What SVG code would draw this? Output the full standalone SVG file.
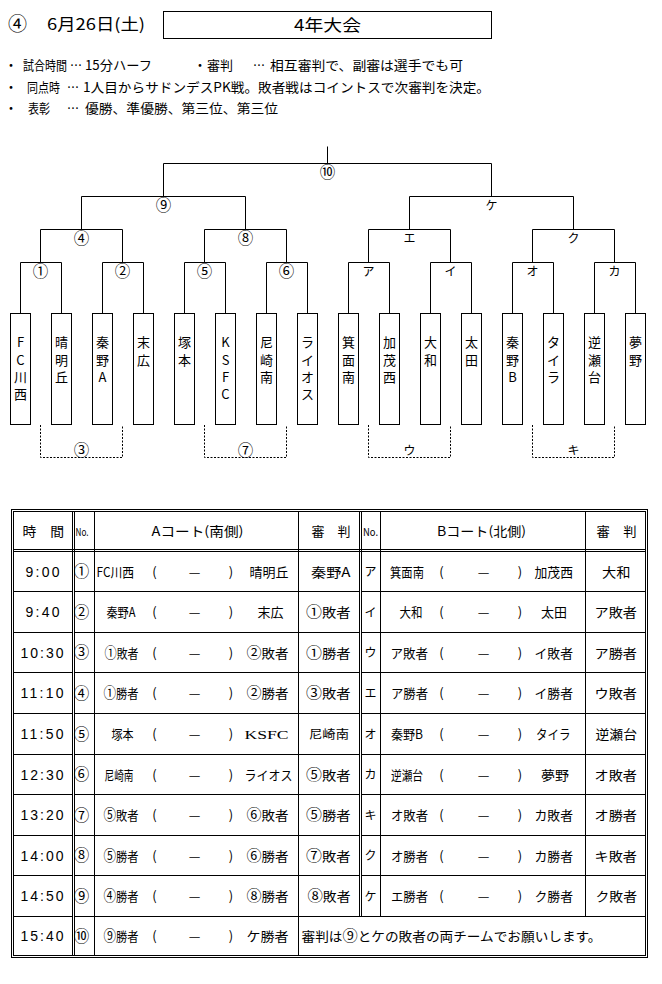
<svg xmlns="http://www.w3.org/2000/svg" width="662" height="984" viewBox="0 0 662 984">
<style>
text{font-family:"Noto Sans CJK JP","Noto Sans",sans-serif;fill:#000;font-size:13px}
.ln{fill:none;stroke:#000;stroke-width:1}
.dash{fill:none;stroke:#000;stroke-width:1;stroke-dasharray:2 1.5}
.box{fill:#fff;stroke:#000;stroke-width:1}
.lbl{font-size:12px;text-anchor:middle}
.cl{font-size:15.5px;text-anchor:middle}
.tm{font-family:"Liberation Sans",Arial,sans-serif;font-size:14px}
.c{text-anchor:middle}
.no{font-size:12px;text-anchor:middle}
.cn{font-size:15.5px;text-anchor:middle}
.cd{font-size:14.5px}
.v{font-size:13px;text-anchor:middle}
</style>
<rect width="662" height="984" fill="#fff"/>

<g id="header">
<text x="17.5" y="31" class="c" style="font-size:19px">④</text>
<text x="47" y="30" style="font-size:16px" textLength="98" lengthAdjust="spacingAndGlyphs">6月26日(土)</text>
<rect x="163.5" y="11.5" width="328" height="27" class="ln"/>
<text x="327.5" y="30.5" class="c" style="font-size:16px" textLength="67" lengthAdjust="spacingAndGlyphs">4年大会</text>
<text x="11" y="70" class="c">・</text>
<text x="23" y="70" textLength="44" lengthAdjust="spacingAndGlyphs">試合時間</text>
<text x="70" y="70" textLength="12" lengthAdjust="spacingAndGlyphs">…</text>
<text x="85" y="70" textLength="67" lengthAdjust="spacingAndGlyphs">15分ハーフ</text>
<text x="200" y="70" class="c">・</text>
<text x="207" y="70" textLength="26" lengthAdjust="spacingAndGlyphs">審判</text>
<text x="253" y="70" textLength="12" lengthAdjust="spacingAndGlyphs">…</text>
<text x="270" y="70" textLength="193" lengthAdjust="spacingAndGlyphs">相互審判で、副審は選手でも可</text>
<text x="11" y="92" class="c">・</text>
<text x="27" y="92" textLength="33" lengthAdjust="spacingAndGlyphs">同点時</text>
<text x="67" y="92" textLength="12" lengthAdjust="spacingAndGlyphs">…</text>
<text x="83" y="92" textLength="407" lengthAdjust="spacingAndGlyphs">1人目からサドンデスPK戦。敗者戦はコイントスで次審判を決定。</text>
<text x="11" y="113" class="c">・</text>
<text x="28" y="113" textLength="22" lengthAdjust="spacingAndGlyphs">表彰</text>
<text x="67" y="113" textLength="12" lengthAdjust="spacingAndGlyphs">…</text>
<text x="85" y="113" textLength="193" lengthAdjust="spacingAndGlyphs">優勝、準優勝、第三位、第三位</text>
</g>

<g id="connectors">
<path class="ln" d="M327.5,146.5V163.5M163.5,196.5V163.5H491.5V196.5
M81.5,229.5V196.5H245.5V229.5M409.5,229.5V196.5H573.5V229.5
M40.5,262.5V229.5H122.5V262.5M204.5,262.5V229.5H286.5V262.5M368.5,262.5V229.5H450.5V262.5M532.5,262.5V229.5H614.5V262.5
M20.5,313.5V262.5H61.5V313.5M102.5,313.5V262.5H143.5V313.5M184.5,313.5V262.5H225.5V313.5M266.5,313.5V262.5H307.5V313.5
M348.5,313.5V262.5H389.5V313.5M430.5,313.5V262.5H471.5V313.5M512.5,313.5V262.5H553.5V313.5M594.5,313.5V262.5H635.5V313.5"/>
<path class="dash" d="M40.5,425V457.5H122.5V425M204.5,425V457.5H286.5V425M368.5,425V457.5H450.5V425M532.5,425V457.5H614.5V425"/>
</g>

<g id="matches">
<g id="m10"><text class="cl" x="327.5" y="177.5">⑩</text></g>
<g id="m9"><text class="cl" x="163.5" y="210.5">⑨</text></g>
<g id="mke"><text class="lbl" x="491.5" y="209.5">ケ</text></g>
<g id="m4"><text class="cl" x="81.5" y="243.5">④</text></g>
<g id="m8"><text class="cl" x="245.5" y="243.5">⑧</text></g>
<g id="me"><text class="lbl" x="409.5" y="242.5">エ</text></g>
<g id="mku"><text class="lbl" x="573.5" y="242.5">ク</text></g>
<g id="m1"><text class="cl" x="40.5" y="276.5">①</text></g>
<g id="m2"><text class="cl" x="122.5" y="276.5">②</text></g>
<g id="m5"><text class="cl" x="204.5" y="276.5">⑤</text></g>
<g id="m6"><text class="cl" x="286.5" y="276.5">⑥</text></g>
<g id="ma"><text class="lbl" x="368.5" y="275.5">ア</text></g>
<g id="mi"><text class="lbl" x="450.5" y="275.5">イ</text></g>
<g id="mo"><text class="lbl" x="532.5" y="275.5">オ</text></g>
<g id="mka"><text class="lbl" x="614.5" y="275.5">カ</text></g>
<g id="m3"><text class="cl" x="81.5" y="455.5">③</text></g>
<g id="m7"><text class="cl" x="245.5" y="455.5">⑦</text></g>
<g id="mu"><text class="lbl" x="409.5" y="455">ウ</text></g>
<g id="mki"><text class="lbl" x="573.5" y="455">キ</text></g>
</g>

<g id="teams">
<g id="t1"><rect class="box" x="10.5" y="313.5" width="20" height="111"/><text class="v"><tspan x="20.5" y="347">F</tspan><tspan x="20.5" y="364.5">C</tspan><tspan x="20.5" y="382">川</tspan><tspan x="20.5" y="399">西</tspan></text></g>
<g id="t2"><rect class="box" x="51.5" y="313.5" width="20" height="111"/><text class="v"><tspan x="61.5" y="347">晴</tspan><tspan x="61.5" y="364.5">明</tspan><tspan x="61.5" y="382">丘</tspan></text></g>
<g id="t3"><rect class="box" x="92.5" y="313.5" width="20" height="111"/><text class="v"><tspan x="102.5" y="347">秦</tspan><tspan x="102.5" y="364.5">野</tspan><tspan x="102.5" y="382">A</tspan></text></g>
<g id="t4"><rect class="box" x="133.5" y="313.5" width="20" height="111"/><text class="v"><tspan x="143.5" y="347">末</tspan><tspan x="143.5" y="364.5">広</tspan></text></g>
<g id="t5"><rect class="box" x="174.5" y="313.5" width="20" height="111"/><text class="v"><tspan x="184.5" y="347">塚</tspan><tspan x="184.5" y="364.5">本</tspan></text></g>
<g id="t6"><rect class="box" x="215.5" y="313.5" width="20" height="111"/><text class="v"><tspan x="225.5" y="347">K</tspan><tspan x="225.5" y="364.5">S</tspan><tspan x="225.5" y="382">F</tspan><tspan x="225.5" y="399">C</tspan></text></g>
<g id="t7"><rect class="box" x="256.5" y="313.5" width="20" height="111"/><text class="v"><tspan x="266.5" y="347">尼</tspan><tspan x="266.5" y="364.5">崎</tspan><tspan x="266.5" y="382">南</tspan></text></g>
<g id="t8"><rect class="box" x="297.5" y="313.5" width="20" height="111"/><text class="v"><tspan x="307.5" y="347">ラ</tspan><tspan x="307.5" y="364.5">イ</tspan><tspan x="307.5" y="382">オ</tspan><tspan x="307.5" y="399">ス</tspan></text></g>
<g id="t9"><rect class="box" x="338.5" y="313.5" width="20" height="111"/><text class="v"><tspan x="348.5" y="347">箕</tspan><tspan x="348.5" y="364.5">面</tspan><tspan x="348.5" y="382">南</tspan></text></g>
<g id="t10"><rect class="box" x="379.5" y="313.5" width="20" height="111"/><text class="v"><tspan x="389.5" y="347">加</tspan><tspan x="389.5" y="364.5">茂</tspan><tspan x="389.5" y="382">西</tspan></text></g>
<g id="t11"><rect class="box" x="420.5" y="313.5" width="20" height="111"/><text class="v"><tspan x="430.5" y="347">大</tspan><tspan x="430.5" y="364.5">和</tspan></text></g>
<g id="t12"><rect class="box" x="461.5" y="313.5" width="20" height="111"/><text class="v"><tspan x="471.5" y="347">太</tspan><tspan x="471.5" y="364.5">田</tspan></text></g>
<g id="t13"><rect class="box" x="502.5" y="313.5" width="20" height="111"/><text class="v"><tspan x="512.5" y="347">秦</tspan><tspan x="512.5" y="364.5">野</tspan><tspan x="512.5" y="382">B</tspan></text></g>
<g id="t14"><rect class="box" x="543.5" y="313.5" width="20" height="111"/><text class="v"><tspan x="553.5" y="347">タ</tspan><tspan x="553.5" y="364.5">イ</tspan><tspan x="553.5" y="382">ラ</tspan></text></g>
<g id="t15"><rect class="box" x="584.5" y="313.5" width="20" height="111"/><text class="v"><tspan x="594.5" y="347">逆</tspan><tspan x="594.5" y="364.5">瀬</tspan><tspan x="594.5" y="382">台</tspan></text></g>
<g id="t16"><rect class="box" x="625.5" y="313.5" width="20" height="111"/><text class="v"><tspan x="635.5" y="347">夢</tspan><tspan x="635.5" y="364.5">野</tspan></text></g>
</g>

<g id="table">
<rect class="ln" x="11.5" y="509.5" width="636" height="448"/>
<rect class="ln" x="13.5" y="511.5" width="632" height="444"/>
<path class="ln" d="M13.5,549.5H645.5M13.5,551.5H645.5
M72.5,511.5V955.5M74.5,511.5V955.5M94.5,511.5V955.5M298.5,511.5V955.5
M359.5,511.5V916.5M361.5,511.5V916.5M380.5,511.5V916.5M585.5,511.5V916.5
M13.5,591.5H72.5M74.5,591.5H359.5M361.5,591.5H645.5
M13.5,632.5H72.5M74.5,632.5H359.5M361.5,632.5H645.5
M13.5,672.5H72.5M74.5,672.5H359.5M361.5,672.5H645.5
M13.5,713.5H72.5M74.5,713.5H359.5M361.5,713.5H645.5
M13.5,754.5H72.5M74.5,754.5H359.5M361.5,754.5H645.5
M13.5,794.5H72.5M74.5,794.5H359.5M361.5,794.5H645.5
M13.5,835.5H72.5M74.5,835.5H359.5M361.5,835.5H645.5
M13.5,875.5H72.5M74.5,875.5H359.5M361.5,875.5H645.5
M13.5,916.5H72.5M74.5,916.5H645.5"/>

<g id="thead">
<text x="22.5" y="535.5" textLength="41.5" lengthAdjust="spacingAndGlyphs">時　間</text>
<text x="75.5" y="535.5" style="font-size:11px" textLength="13" lengthAdjust="spacingAndGlyphs">No.</text>
<text x="151.5" y="535.5" textLength="92" lengthAdjust="spacingAndGlyphs">Aコート(南側)</text>
<text x="311.5" y="535.5" textLength="39" lengthAdjust="spacingAndGlyphs">審　判</text>
<text x="363" y="535.5" style="font-size:11px" textLength="15" lengthAdjust="spacingAndGlyphs">No.</text>
<text x="437" y="535.5" textLength="89" lengthAdjust="spacingAndGlyphs">Bコート(北側)</text>
<text x="596.5" y="535.5" textLength="40" lengthAdjust="spacingAndGlyphs">審　判</text>
</g>

<g id="times">
<text class="tm" x="25.5" y="576.5" textLength="34">9:00</text>
<text class="tm" x="25.5" y="617" textLength="34">9:40</text>
<text class="tm" x="20.5" y="657.5" textLength="43">10:30</text>
<text class="tm" x="20.5" y="698" textLength="43">11:10</text>
<text class="tm" x="20.5" y="739" textLength="43">11:50</text>
<text class="tm" x="20.5" y="779.5" textLength="43">12:30</text>
<text class="tm" x="20.5" y="820" textLength="43">13:20</text>
<text class="tm" x="20.5" y="860.5" textLength="43">14:00</text>
<text class="tm" x="20.5" y="901" textLength="43">14:50</text>
<text class="tm" x="20.5" y="941" textLength="43">15:40</text>
</g>

<g id="nos">
<text class="cn" x="81.5" y="577">①</text><text class="cn" x="81.5" y="617.5">②</text><text class="cn" x="81.5" y="658">③</text><text class="cn" x="81.5" y="698.5">④</text><text class="cn" x="81.5" y="739.5">⑤</text><text class="cn" x="81.5" y="780">⑥</text><text class="cn" x="81.5" y="820.5">⑦</text><text class="cn" x="81.5" y="861">⑧</text><text class="cn" x="81.5" y="901.5">⑨</text><text class="cn" x="81.5" y="941.5">⑩</text>
<text class="no" x="370.5" y="576">ア</text><text class="no" x="370.5" y="616.5">イ</text><text class="no" x="370.5" y="657">ウ</text><text class="no" x="370.5" y="697.5">エ</text><text class="no" x="370.5" y="738.5">オ</text><text class="no" x="370.5" y="779">カ</text><text class="no" x="370.5" y="819.5">キ</text><text class="no" x="370.5" y="860">ク</text><text class="no" x="370.5" y="900.5">ケ</text>
</g>

<g id="punct">
<text class="c" x="154.5" y="576.5">(</text><text class="c" x="194.5" y="576.5">—</text><text class="c" x="231" y="576.5">)</text>
<text class="c" x="154.5" y="617">(</text><text class="c" x="194.5" y="617">—</text><text class="c" x="231" y="617">)</text>
<text class="c" x="154.5" y="657.5">(</text><text class="c" x="194.5" y="657.5">—</text><text class="c" x="231" y="657.5">)</text>
<text class="c" x="154.5" y="698">(</text><text class="c" x="194.5" y="698">—</text><text class="c" x="231" y="698">)</text>
<text class="c" x="154.5" y="739">(</text><text class="c" x="194.5" y="739">—</text><text class="c" x="231" y="739">)</text>
<text class="c" x="154.5" y="779.5">(</text><text class="c" x="194.5" y="779.5">—</text><text class="c" x="231" y="779.5">)</text>
<text class="c" x="154.5" y="820">(</text><text class="c" x="194.5" y="820">—</text><text class="c" x="231" y="820">)</text>
<text class="c" x="154.5" y="860.5">(</text><text class="c" x="194.5" y="860.5">—</text><text class="c" x="231" y="860.5">)</text>
<text class="c" x="154.5" y="901">(</text><text class="c" x="194.5" y="901">—</text><text class="c" x="231" y="901">)</text>
<text class="c" x="154.5" y="941">(</text><text class="c" x="194.5" y="941">—</text><text class="c" x="231" y="941">)</text>
<text class="c" x="441.5" y="576.5">(</text><text class="c" x="483.5" y="576.5">—</text><text class="c" x="520" y="576.5">)</text>
<text class="c" x="441.5" y="617">(</text><text class="c" x="483.5" y="617">—</text><text class="c" x="520" y="617">)</text>
<text class="c" x="441.5" y="657.5">(</text><text class="c" x="483.5" y="657.5">—</text><text class="c" x="520" y="657.5">)</text>
<text class="c" x="441.5" y="698">(</text><text class="c" x="483.5" y="698">—</text><text class="c" x="520" y="698">)</text>
<text class="c" x="441.5" y="739">(</text><text class="c" x="483.5" y="739">—</text><text class="c" x="520" y="739">)</text>
<text class="c" x="441.5" y="779.5">(</text><text class="c" x="483.5" y="779.5">—</text><text class="c" x="520" y="779.5">)</text>
<text class="c" x="441.5" y="820">(</text><text class="c" x="483.5" y="820">—</text><text class="c" x="520" y="820">)</text>
<text class="c" x="441.5" y="860.5">(</text><text class="c" x="483.5" y="860.5">—</text><text class="c" x="520" y="860.5">)</text>
<text class="c" x="441.5" y="901">(</text><text class="c" x="483.5" y="901">—</text><text class="c" x="520" y="901">)</text>
</g>

<g id="courtA">
<text x="96.5" y="576.5" textLength="37.5" lengthAdjust="spacingAndGlyphs">FC川西</text>
<text x="249.5" y="576.5" textLength="39" lengthAdjust="spacingAndGlyphs">晴明丘</text>
<text x="311" y="576.5" textLength="39.5" lengthAdjust="spacingAndGlyphs">秦野A</text>
<text x="106.5" y="617" textLength="29" lengthAdjust="spacingAndGlyphs">秦野A</text>
<text x="257.5" y="617" textLength="26" lengthAdjust="spacingAndGlyphs">末広</text>
<text x="306" y="617" textLength="44.5" lengthAdjust="spacingAndGlyphs"><tspan class="cd">①</tspan>敗者</text>
<text x="104.5" y="657.5" textLength="34" lengthAdjust="spacingAndGlyphs"><tspan class="cd">①</tspan>敗者</text>
<text x="246.5" y="657.5" textLength="42" lengthAdjust="spacingAndGlyphs"><tspan class="cd">②</tspan>敗者</text>
<text x="306" y="657.5" textLength="44.5" lengthAdjust="spacingAndGlyphs"><tspan class="cd">①</tspan>勝者</text>
<text x="103.5" y="698" textLength="35" lengthAdjust="spacingAndGlyphs"><tspan class="cd">①</tspan>勝者</text>
<text x="246.5" y="698" textLength="42" lengthAdjust="spacingAndGlyphs"><tspan class="cd">②</tspan>勝者</text>
<text x="306" y="698" textLength="44.5" lengthAdjust="spacingAndGlyphs"><tspan class="cd">③</tspan>敗者</text>
<text x="111.5" y="739" textLength="22" lengthAdjust="spacingAndGlyphs">塚本</text>
<text x="244.5" y="739" textLength="44" lengthAdjust="spacingAndGlyphs" style="font-family:'Liberation Serif',serif;font-size:13px">KSFC</text>
<text x="309" y="739" style="font-size:12px" textLength="40" lengthAdjust="spacingAndGlyphs">尼崎南</text>
<text x="104.5" y="779.5" textLength="29" lengthAdjust="spacingAndGlyphs">尼崎南</text>
<text x="244.5" y="779.5" textLength="48" lengthAdjust="spacingAndGlyphs">ライオス</text>
<text x="306" y="779.5" textLength="44.5" lengthAdjust="spacingAndGlyphs"><tspan class="cd">⑤</tspan>敗者</text>
<text x="103.5" y="820" textLength="35" lengthAdjust="spacingAndGlyphs"><tspan class="cd">⑤</tspan>敗者</text>
<text x="246.5" y="820" textLength="42" lengthAdjust="spacingAndGlyphs"><tspan class="cd">⑥</tspan>敗者</text>
<text x="306" y="820" textLength="44.5" lengthAdjust="spacingAndGlyphs"><tspan class="cd">⑤</tspan>勝者</text>
<text x="103.5" y="860.5" textLength="35" lengthAdjust="spacingAndGlyphs"><tspan class="cd">⑤</tspan>勝者</text>
<text x="246.5" y="860.5" textLength="42" lengthAdjust="spacingAndGlyphs"><tspan class="cd">⑥</tspan>勝者</text>
<text x="306" y="860.5" textLength="44.5" lengthAdjust="spacingAndGlyphs"><tspan class="cd">⑦</tspan>敗者</text>
<text x="103.5" y="901" textLength="35" lengthAdjust="spacingAndGlyphs"><tspan class="cd">④</tspan>勝者</text>
<text x="246.5" y="901" textLength="42" lengthAdjust="spacingAndGlyphs"><tspan class="cd">⑧</tspan>勝者</text>
<text x="307.5" y="901" textLength="43" lengthAdjust="spacingAndGlyphs"><tspan class="cd">⑧</tspan>敗者</text>
<text x="103.5" y="941" textLength="35" lengthAdjust="spacingAndGlyphs"><tspan class="cd">⑨</tspan>勝者</text>
<text x="246.5" y="941" textLength="42" lengthAdjust="spacingAndGlyphs">ケ勝者</text>
<text x="301.5" y="941" textLength="300" lengthAdjust="spacingAndGlyphs">審判は<tspan class="cd">⑨</tspan>とケの敗者の両チームでお願いします。</text>
</g>

<g id="courtB">
<text x="390" y="576.5" textLength="34" lengthAdjust="spacingAndGlyphs">箕面南</text>
<text x="534.5" y="576.5" textLength="38.5" lengthAdjust="spacingAndGlyphs">加茂西</text>
<text x="602" y="576.5" textLength="28.5" lengthAdjust="spacingAndGlyphs">大和</text>
<text x="399.5" y="617" textLength="23" lengthAdjust="spacingAndGlyphs">大和</text>
<text x="541" y="617" textLength="26" lengthAdjust="spacingAndGlyphs">太田</text>
<text x="594.5" y="617" textLength="42.5" lengthAdjust="spacingAndGlyphs">ア敗者</text>
<text x="390.5" y="657.5" textLength="37.5" lengthAdjust="spacingAndGlyphs">ア敗者</text>
<text x="534.5" y="657.5" textLength="38.5" lengthAdjust="spacingAndGlyphs">イ敗者</text>
<text x="594.5" y="657.5" textLength="42.5" lengthAdjust="spacingAndGlyphs">ア勝者</text>
<text x="391" y="698" textLength="37" lengthAdjust="spacingAndGlyphs">ア勝者</text>
<text x="534.5" y="698" textLength="38.5" lengthAdjust="spacingAndGlyphs">イ勝者</text>
<text x="594.5" y="698" textLength="42.5" lengthAdjust="spacingAndGlyphs">ウ敗者</text>
<text x="391" y="739" textLength="32" lengthAdjust="spacingAndGlyphs">秦野B</text>
<text x="536" y="739" textLength="34.5" lengthAdjust="spacingAndGlyphs">タイラ</text>
<text x="595.5" y="739" textLength="41.5" lengthAdjust="spacingAndGlyphs">逆瀬台</text>
<text x="391" y="779.5" textLength="32" lengthAdjust="spacingAndGlyphs">逆瀬台</text>
<text x="541" y="779.5" textLength="28" lengthAdjust="spacingAndGlyphs">夢野</text>
<text x="594.5" y="779.5" textLength="42.5" lengthAdjust="spacingAndGlyphs">オ敗者</text>
<text x="391" y="820" textLength="37" lengthAdjust="spacingAndGlyphs">オ敗者</text>
<text x="534.5" y="820" textLength="38.5" lengthAdjust="spacingAndGlyphs">カ敗者</text>
<text x="594.5" y="820" textLength="42.5" lengthAdjust="spacingAndGlyphs">オ勝者</text>
<text x="391" y="860.5" textLength="37" lengthAdjust="spacingAndGlyphs">オ勝者</text>
<text x="534.5" y="860.5" textLength="38.5" lengthAdjust="spacingAndGlyphs">カ勝者</text>
<text x="594.5" y="860.5" textLength="42.5" lengthAdjust="spacingAndGlyphs">キ敗者</text>
<text x="391" y="901" textLength="37" lengthAdjust="spacingAndGlyphs">エ勝者</text>
<text x="534.5" y="901" textLength="38.5" lengthAdjust="spacingAndGlyphs">ク勝者</text>
<text x="595.5" y="901" textLength="41.5" lengthAdjust="spacingAndGlyphs">ク敗者</text>
</g>
</g>
</svg>
